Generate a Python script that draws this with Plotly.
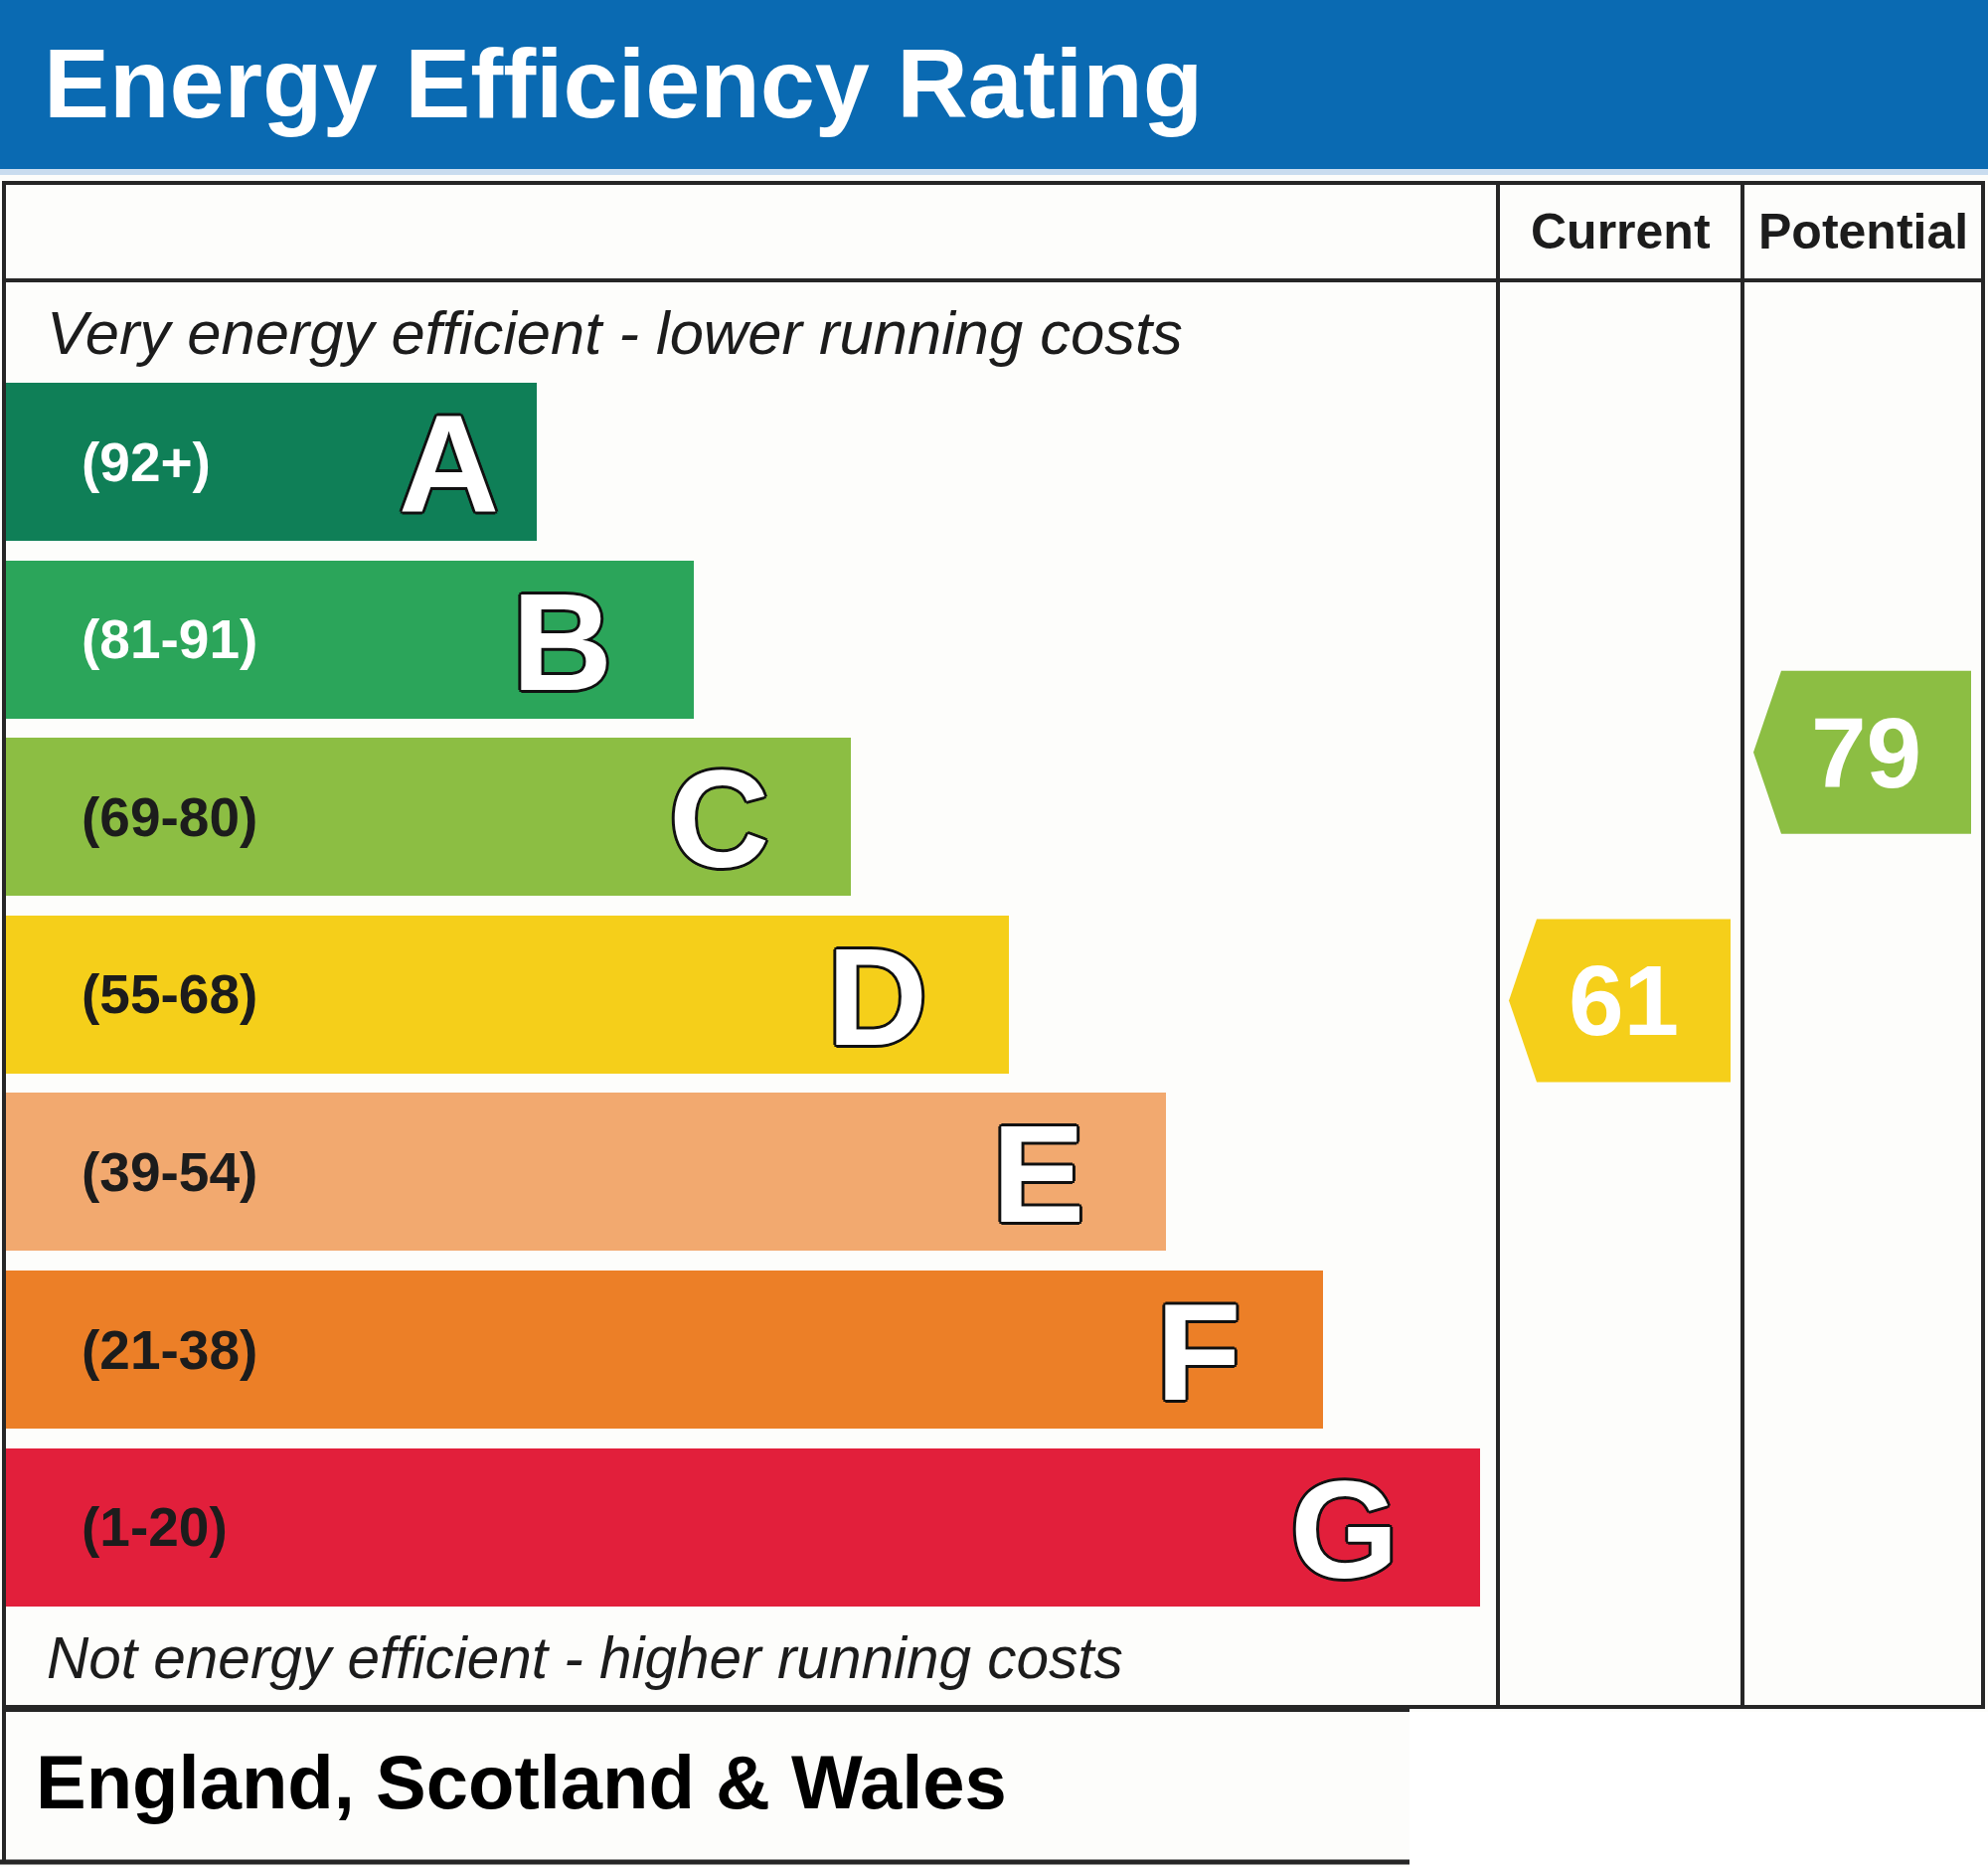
import plotly.graph_objects as go

# EPC bands, top (most efficient) to bottom
bands = ["A", "B", "C", "D", "E", "F", "G"]
range_labels = ["(92+)", "(81-91)", "(69-80)", "(55-68)", "(39-54)", "(21-38)", "(1-20)"]
band_lo = [92, 81, 69, 55, 39, 21, 1]
band_hi = [100, 91, 80, 68, 54, 38, 20]
band_colors = ["#0f7f57", "#2ba55a", "#8cbe43", "#f5cf1a", "#f2a96f", "#ec7f27", "#e21f3b"]
label_colors = ["white", "white", "#1c1c1c", "#1c1c1c", "#1c1c1c", "#1c1c1c", "#1c1c1c"]

current_rating = 61
potential_rating = 79

W, H = 2000, 1878
FONT = "Liberation Sans"
LINE = "#262626"

# layout in pixels (axes run 0..W, 0..H top-down)
BAR_TOP = 385
PITCH = 178.6
BAR_H = 159
BAR_X0 = 6
BAR_LEN0 = 534
BAR_STEP = 158.2

COL_CUR = (1507, 1753)
COL_POT = (1753, 1995)

centers = [BAR_TOP + PITCH * i + BAR_H / 2 for i in range(len(bands))]
lengths = [BAR_LEN0 + BAR_STEP * i for i in range(len(bands))]

fig = go.Figure()

fig.add_trace(go.Bar(
    orientation="h",
    y=centers,
    x=lengths,
    base=BAR_X0,
    width=BAR_H,
    marker=dict(color=band_colors, line=dict(width=0)),
    hoverinfo="skip",
    showlegend=False,
))


def band_of(v):
    for i in range(len(bands)):
        if band_lo[i] <= v <= band_hi[i]:
            return i
    return len(bands) - 1


def arrow(value, col):
    i = band_of(value)
    frac = (value - band_lo[i]) / (band_hi[i] - band_lo[i])
    bottom = BAR_TOP + PITCH * i + BAR_H
    cy = bottom - frac * BAR_H
    tip = col[0] + 11
    right = col[1] - 12
    half = 82
    inset = 28
    fig.add_trace(go.Scatter(
        x=[tip, tip + inset, right, right, tip + inset, tip],
        y=[cy, cy - half, cy - half, cy + half, cy + half, cy],
        fill="toself", fillcolor=band_colors[i], mode="lines",
        line=dict(width=0, color=band_colors[i]),
        hoverinfo="skip", showlegend=False,
    ))
    fig.add_annotation(
        x=(tip + right) / 2 + 4, y=cy, text=str(value), showarrow=False,
        xanchor="center", yanchor="middle",
        font=dict(family=FONT, size=100, color="white", weight="bold"),
    )


arrow(current_rating, COL_CUR)
arrow(potential_rating, COL_POT)

outline = ("3px 0 0 #111, -3px 0 0 #111, 0 3px 0 #111, 0 -3px 0 #111, "
           "2px 2px 0 #111, -2px -2px 0 #111, 2px -2px 0 #111, -2px 2px 0 #111")

for i, b in enumerate(bands):
    fig.add_annotation(
        x=80, y=centers[i], text=range_labels[i], showarrow=False,
        xanchor="left", yanchor="middle",
        font=dict(family=FONT, size=55, color=label_colors[i], weight="bold"),
    )
    end = BAR_X0 + lengths[i]
    fig.add_annotation(
        x=end - (36 if i == 0 else 80), y=centers[i] + 2, text=b, showarrow=False,
        xanchor="right", yanchor="middle",
        font=dict(family=FONT, size=140, color="white", weight="bold", shadow=outline),
    )

# header and frame
shapes = [
    dict(type="rect", x0=0, x1=W, y0=0, y1=170, fillcolor="#0a6ab2", line_width=0, layer="below"),
    dict(type="rect", x0=0, x1=W, y0=170, y1=176, fillcolor="#c9dcef", line_width=0, layer="below"),
    dict(type="rect", x0=1418, x1=W, y0=1722, y1=H, fillcolor="white", line_width=0, layer="below"),
    dict(type="rect", x0=4, x1=1995, y0=184, y1=1717, line=dict(color=LINE, width=4)),
    dict(type="line", x0=4, x1=1995, y0=282, y1=282, line=dict(color=LINE, width=4)),
    dict(type="line", x0=COL_CUR[0], x1=COL_CUR[0], y0=184, y1=1717, line=dict(color=LINE, width=4)),
    dict(type="line", x0=COL_POT[0], x1=COL_POT[0], y0=184, y1=1717, line=dict(color=LINE, width=4)),
    dict(type="line", x0=4, x1=4, y0=1717, y1=1875, line=dict(color=LINE, width=4)),
    dict(type="line", x0=0, x1=1418, y0=1873, y1=1873, line=dict(color=LINE, width=5)),
    dict(type="line", x0=4, x1=1418, y0=1720, y1=1720, line=dict(color=LINE, width=4)),
]

texts = [
    dict(x=42, y=83, text="Energy Efficiency Rating", xanchor="left",
         font=dict(family=FONT, size=99, color="white", weight="bold")),
    dict(x=sum(COL_CUR) / 2, y=233, text="Current", xanchor="center",
         font=dict(family=FONT, size=50, color="#1c1c1c", weight="bold")),
    dict(x=sum(COL_POT) / 2, y=233, text="Potential", xanchor="center",
         font=dict(family=FONT, size=50, color="#1c1c1c", weight="bold")),
    dict(x=45, y=334, text="Very energy efficient - lower running costs", xanchor="left",
         font=dict(family=FONT, size=61.5, color="#1c1c1c", style="italic")),
    dict(x=45, y=1667, text="Not energy efficient - higher running costs", xanchor="left",
         font=dict(family=FONT, size=58.5, color="#1c1c1c", style="italic")),
    dict(x=34, y=1792, text="England, Scotland & Wales", xanchor="left",
         font=dict(family=FONT, size=76, color="black", weight="bold")),
]
for t in texts:
    fig.add_annotation(showarrow=False, yanchor="middle", **t)

fig.update_layout(
    width=W, height=H,
    margin=dict(l=0, r=0, t=0, b=0),
    paper_bgcolor="#fdfdfb",
    plot_bgcolor="#fdfdfb",
    shapes=shapes,
    bargap=0,
    xaxis=dict(range=[0, W], visible=False, fixedrange=True),
    yaxis=dict(range=[H, 0], visible=False, fixedrange=True),
)

fig.write_html("out.html", config={"displayModeBar": False},
               post_script="document.body.style.margin = '0';")
